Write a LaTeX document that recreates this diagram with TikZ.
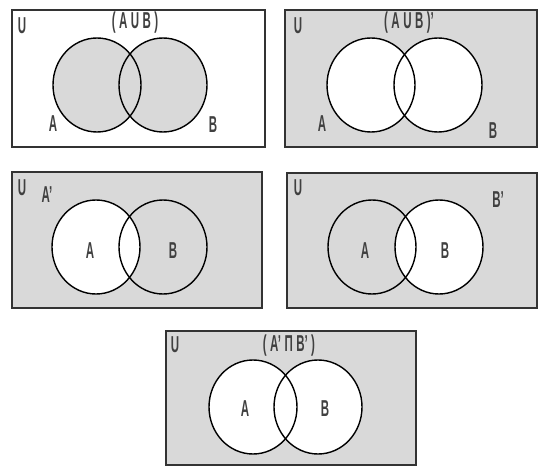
\documentclass[tikz,border=0pt]{standalone}
\usepackage{fontspec}
\usepackage{graphicx}
\setsansfont{Liberation Sans}
\newcommand{\narrowtext}[1]{\scalebox{0.5}[1]{#1}}
\newcommand{\lgap}{\hspace{0.3em}}
\usetikzlibrary{positioning}

\begin{document}
\begin{tikzpicture}[
    x=1pt, y=-1pt,
    universe/.style={draw=black!80, line width=1.6pt},
    setline/.style={draw=black, line width=1.4pt},
    shade/.style={fill=black!15},
    setlabel/.style={font=\fontsize{23pt}{23pt}\sffamily\bfseries, text=black!75, inner sep=0pt}
]
    \useasboundingbox (0,0) rectangle (538,468);

    % Panel 1: A union B
    \path [fill=white] (12,10) rectangle (265,147);
    \path [shade] (97,85) ellipse [x radius=44, y radius=47];
    \path [shade] (163,85) ellipse [x radius=44, y radius=47];
    \draw [setline] (97,85) ellipse [x radius=44, y radius=47];
    \draw [setline] (163,85) ellipse [x radius=44, y radius=47];
    \draw [universe] (12,10) rectangle (265,147);
    \node [setlabel] (u1) at (22,26) {\narrowtext{U}};
    \node [setlabel] (t1) at (135,23) {\narrowtext{(\lgap A\lgap U\lgap B\lgap)}};
    \node [setlabel] (a1) at (53,124) {\narrowtext{A}};
    \node [setlabel] (b1) at (213,125) {\narrowtext{B}};

    % Panel 2: complement of the union
    \path [shade] (285,10) rectangle (537,147);
    \path [fill=white] (371,85) ellipse [x radius=44, y radius=47];
    \path [fill=white] (438,85) ellipse [x radius=44, y radius=47];
    \draw [setline] (371,85) ellipse [x radius=44, y radius=47];
    \draw [setline] (438,85) ellipse [x radius=44, y radius=47];
    \draw [universe] (285,10) rectangle (537,147);
    \node [setlabel] (u2) at (298,26) {\narrowtext{U}};
    \node [setlabel] (t2) at (409,23) {\narrowtext{(\lgap A\lgap U\lgap B\lgap)'}};
    \node [setlabel] (a2) at (322,124) {\narrowtext{A}};
    \node [setlabel] (b2) at (493,131) {\narrowtext{B}};

    % Panel 3: A'
    \path [shade] (12,172) rectangle (262,308);
    \path [fill=white] (96,247) ellipse [x radius=44, y radius=47];
    \draw [setline] (96,247) ellipse [x radius=44, y radius=47];
    \draw [setline] (163,247) ellipse [x radius=44, y radius=47];
    \draw [universe] (12,172) rectangle (262,308);
    \node [setlabel] (u3) at (22,188) {\narrowtext{U}};
    \node [setlabel] (t3) at (47,195) {\narrowtext{A'}};
    \node [setlabel] (a3) at (90,251) {\narrowtext{A}};
    \node [setlabel] (b3) at (173,251) {\narrowtext{B}};

    % Panel 4: B'
    \path [shade] (287,173) rectangle (537,308);
    \path [fill=white] (439,247) ellipse [x radius=44, y radius=47];
    \draw [setline] (372,247) ellipse [x radius=44, y radius=47];
    \draw [setline] (439,247) ellipse [x radius=44, y radius=47];
    \draw [universe] (287,173) rectangle (537,308);
    \node [setlabel] (u4) at (298,188) {\narrowtext{U}};
    \node [setlabel] (t4) at (498,200) {\narrowtext{B'}};
    \node [setlabel] (a4) at (365,251) {\narrowtext{A}};
    \node [setlabel] (b4) at (445,251) {\narrowtext{B}};

    % Panel 5: A' intersect B'
    \path [shade] (166,331) rectangle (416,465);
    \path [fill=white] (253,407) ellipse [x radius=44, y radius=47];
    \path [fill=white] (318,407) ellipse [x radius=44, y radius=47];
    \draw [setline] (253,407) ellipse [x radius=44, y radius=47];
    \draw [setline] (318,407) ellipse [x radius=44, y radius=47];
    \draw [universe] (166,331) rectangle (416,465);
    \node [setlabel] (u5) at (175,345) {\narrowtext{U}};
    \node [setlabel] (t5) at (289,346) {\narrowtext{(\lgap A'\lgap Π\lgap B'\lgap)}};
    \node [setlabel] (a5) at (245,409) {\narrowtext{A}};
    \node [setlabel] (b5) at (325,409) {\narrowtext{B}};

\end{tikzpicture}
\end{document}
